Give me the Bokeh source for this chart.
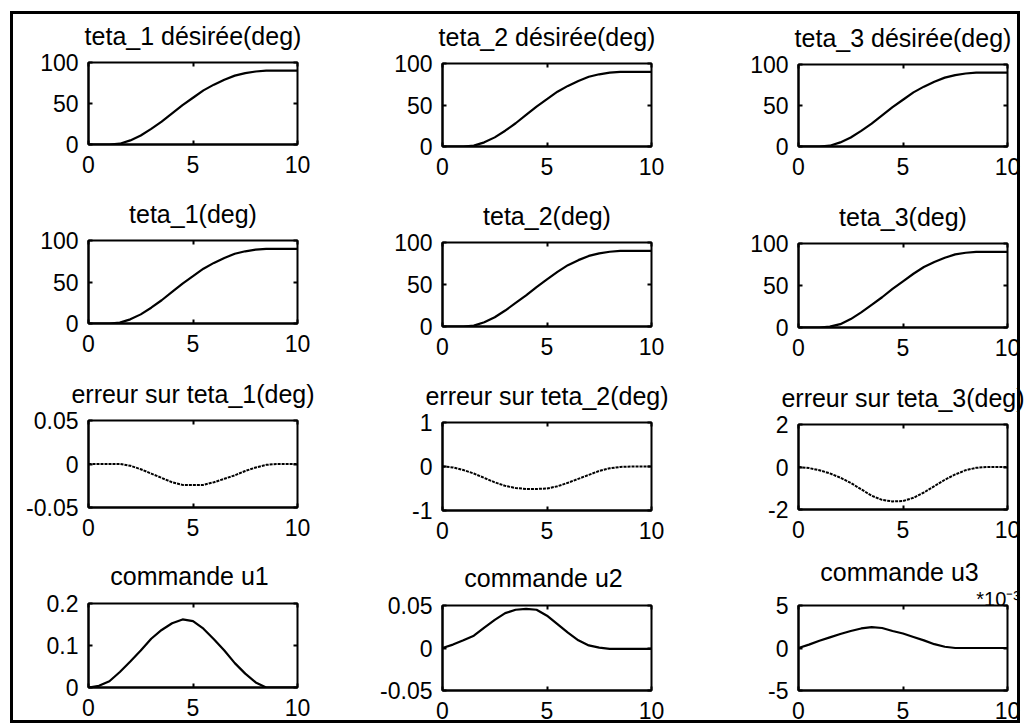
from bokeh.plotting import figure
from bokeh.layouts import row, column
from bokeh.models import LinearAxis, Range1d, FixedTicker, CustomJSTickFormatter
from bokeh.embed import file_html
from bokeh.resources import INLINE

# ---- time base (s) ----
t = [0, 0.5, 1, 1.5, 2, 2.5, 3, 3.5, 4, 4.5, 5, 5.5, 6, 6.5, 7, 7.5, 8, 8.5, 9, 9.5, 10]

# ---- desired joint angles (deg) ----
teta1_des = [0, 0, 0, 1, 5, 11, 19, 28, 38, 48, 57, 66, 73, 79, 84, 87, 89, 90, 90, 90, 90]
teta2_des = [0, 0, 0, 1, 5, 11, 19, 28, 38, 48, 57, 66, 73, 79, 84, 87, 89, 90, 90, 90, 90]
teta3_des = [0, 0, 0, 1, 5, 11, 19, 28, 38, 48, 57, 66, 73, 79, 84, 87, 89, 90, 90, 90, 90]

# ---- measured joint angles (deg) ----
teta1 = [0, 0, 0, 1, 5, 11, 19, 28, 38, 48, 57, 66, 73, 79, 84, 87, 89, 90, 90, 90, 90]
teta2 = [0, 0, 0, 1, 5, 11, 19, 28, 37, 47, 56, 65, 73, 79, 84, 87, 89, 90, 90, 90, 90]
teta3 = [0, 0, 0, 1, 4, 10, 18, 27, 36, 46, 55, 64, 72, 78, 83, 87, 89, 90, 90, 90, 90]

# ---- tracking errors (deg) ----
err1 = [0, 0, 0, 0, -0.002, -0.006, -0.011, -0.016, -0.021, -0.024, -0.024, -0.024,
        -0.021, -0.017, -0.013, -0.008, -0.004, -0.001, 0, 0, 0]
err2 = [0, -0.02, -0.08, -0.16, -0.26, -0.36, -0.44, -0.49, -0.51, -0.51, -0.5, -0.45,
        -0.37, -0.28, -0.19, -0.1, -0.04, -0.01, 0, 0, 0]
err3 = [0, -0.05, -0.15, -0.3, -0.5, -0.75, -1.05, -1.35, -1.55, -1.62, -1.6, -1.45,
        -1.2, -0.9, -0.6, -0.35, -0.15, -0.04, 0, 0, 0]

# ---- control inputs ----
u1 = [0, 0.004, 0.015, 0.037, 0.062, 0.088, 0.116, 0.137, 0.153, 0.162, 0.158, 0.14,
      0.115, 0.088, 0.058, 0.033, 0.012, 0.0, 0, 0, 0]
u2 = [0, 0.004, 0.009, 0.0145, 0.024, 0.033, 0.041, 0.045, 0.046, 0.045, 0.038, 0.028,
      0.018, 0.009, 0.003, 0.0005, -0.001, -0.001, -0.001, -0.001, -0.001]
u3_e3 = [0, 0.4, 0.85, 1.25, 1.65, 2.0, 2.3, 2.45, 2.35, 2.0, 1.7, 1.3,
         0.9, 0.45, 0.15, 0, 0, 0, 0, 0, 0]   # in units of 1e-3

# ---- axis ticks ----
x_ticks = [0, 5, 10]
yt_angle = [0, 50, 100]
yt_err1 = [-0.05, 0, 0.05]
yt_err2 = [-1, 0, 1]
yt_err3 = [-2, 0, 2]
yt_u1 = [0, 0.1, 0.2]
yt_u2 = [-0.05, 0, 0.05]
yt_u3 = [-5, 0, 5]
u3_scale_text = "*10\u207b\u00b3\u00a0"

FONT = "Liberation Sans"
FW = 209


def panel(title, y, yticks, top, fh, bottom, left, right, title_standoff,
          dashed=False, scale_text=None):
    p = figure(frame_width=FW, frame_height=fh, title=title,
               x_range=Range1d(0, 10), y_range=Range1d(yticks[0], yticks[-1]),
               output_backend="svg", toolbar_location=None,
               min_border_top=top, min_border_bottom=bottom,
               min_border_left=left, min_border_right=right)
    p.title.text_font = FONT
    p.title.text_font_size = "25px"
    p.title.text_font_style = "normal"
    p.title.text_color = "black"
    p.title.align = "center"
    p.title.standoff = title_standoff
    p.grid.visible = False
    p.outline_line_color = "black"
    p.outline_line_width = 2
    p.background_fill_color = "white"
    p.border_fill_color = "white"

    fmt = CustomJSTickFormatter(code="return String(Number(tick.toFixed(6)));")
    p.xaxis.ticker = FixedTicker(ticks=x_ticks, minor_ticks=[])
    p.yaxis.ticker = FixedTicker(ticks=yticks, minor_ticks=[])
    for ax in (p.xaxis[0], p.yaxis[0]):
        ax.formatter = fmt
        ax.major_tick_in = 4
        ax.major_tick_out = 0
        ax.major_tick_line_width = 2
        ax.axis_line_width = 2
        ax.axis_line_color = "black"
        ax.major_label_text_font = FONT
        ax.major_label_text_font_size = "23px"
        ax.major_label_text_color = "black"
    p.xaxis.major_label_standoff = 11
    p.yaxis.major_label_standoff = 10

    # inner ticks on the opposite sides of the box; the top one may carry the scale factor
    if scale_text:
        top_fmt = CustomJSTickFormatter(args=dict(s=scale_text),
                                        code="return tick == 10 ? s : '';")
        label_standoff = -4
    else:
        top_fmt = CustomJSTickFormatter(code="return '';")
        label_standoff = 0
    top_ax = LinearAxis(ticker=FixedTicker(ticks=x_ticks, minor_ticks=[]), formatter=top_fmt,
                        major_tick_in=4, major_tick_out=0, major_tick_line_width=2,
                        axis_line_color=None, major_label_standoff=label_standoff,
                        major_label_text_font=FONT, major_label_text_font_size="20px",
                        major_label_text_color="black")
    right_ax = LinearAxis(ticker=FixedTicker(ticks=yticks, minor_ticks=[]),
                          formatter=CustomJSTickFormatter(code="return '';"),
                          major_tick_in=4, major_tick_out=0, major_tick_line_width=2,
                          axis_line_color=None, major_label_standoff=0)
    p.add_layout(top_ax, "above")
    p.add_layout(right_ax, "right")

    if dashed:
        p.line(t, y, line_color="black", line_width=2, line_dash="3 1")
    else:
        p.line(t, y, line_color="black", line_width=2.2)
    return p


# vertical geometry of each column: (top border, frame height, bottom border) per row
geom = [
    [(62, 82, 38), (58, 83, 38), (59, 87, 38), (58, 84, 41)],
    [(63, 83, 38), (58, 84, 38), (58, 88, 38), (57, 85, 38)],
    [(64, 82, 38), (59, 84, 38), (59, 85, 38), (58, 85, 38)],
]
# horizontal geometry of each column: (left border, right border)
horiz = [(88, 57), (88, 59), (88, 18)]
# title distance from the box, per row
title_standoffs = [26, 26, 26, 27]

specs = [
    [("teta_1 désirée(deg)", teta1_des, yt_angle, False),
     ("teta_1(deg)", teta1, yt_angle, False),
     ("erreur sur teta_1(deg)", err1, yt_err1, True),
     ("commande  u1", u1, yt_u1, False)],
    [("teta_2 désirée(deg)", teta2_des, yt_angle, False),
     ("teta_2(deg)", teta2, yt_angle, False),
     ("erreur sur teta_2(deg)", err2, yt_err2, True),
     ("commande  u2", u2, yt_u2, False)],
    [("teta_3 désirée(deg)", teta3_des, yt_angle, False),
     ("teta_3(deg)", teta3, yt_angle, False),
     ("erreur sur teta_3(deg)", err3, yt_err3, True),
     ("commande  u3", u3_e3, yt_u3, False)],
]

columns = []
for c in range(3):
    figs = []
    for r in range(4):
        title, y, yt, dashed = specs[c][r]
        top, fh, bottom = geom[c][r]
        left, right = horiz[c]
        scale = u3_scale_text if (c == 2 and r == 3) else None
        standoff = -2 if scale else title_standoffs[r]
        figs.append(panel(title, y, yt, top, fh, bottom, left, right, standoff,
                          dashed, scale))
    columns.append(column(*figs, spacing=0))

# outer figure frame drawn on top of the panels
frame_css = """
:host { position: relative; }
:host::after {
  content: "";
  position: absolute;
  left: 10px; top: 11px; width: 1010px; height: 712px;
  box-sizing: border-box;
  border: 3px solid black;
  pointer-events: none;
  z-index: 100;
}
"""
layout = row(*columns, spacing=0, stylesheets=[frame_css])

open("out.html", "w").write(file_html(layout, INLINE))
